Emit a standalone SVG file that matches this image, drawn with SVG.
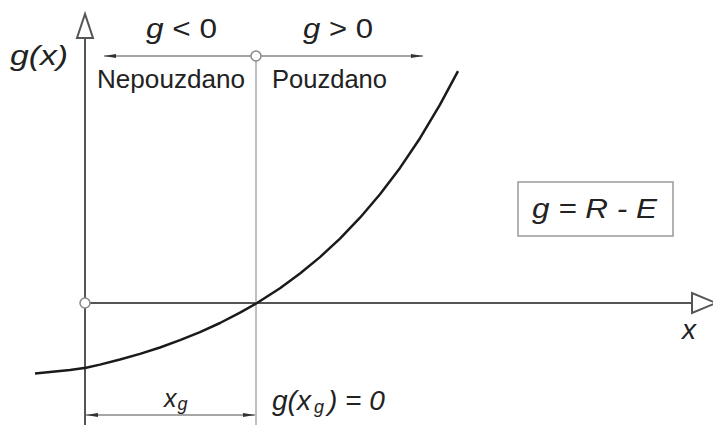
<svg xmlns="http://www.w3.org/2000/svg" width="713" height="425" viewBox="0 0 713 425">
<style>
text{font-family:"Liberation Sans",Arial,sans-serif;fill:#222}
.it{font-style:italic}
.axis{stroke:#555;stroke-width:2;fill:none}
.thin{stroke:#aaa;stroke-width:1.5;fill:none}
.dim{stroke:#888;stroke-width:1.5;fill:none}
.open{fill:#fff;stroke:#555;stroke-width:2}
.dot{fill:#fff;stroke:#888;stroke-width:1.5}
</style>
<defs>
<marker id="ah" viewBox="0 0 12 6" refX="12" refY="3" markerWidth="12" markerHeight="6" markerUnits="userSpaceOnUse" orient="auto-start-reverse">
<path d="M0,1 L12,3 L0,5 Z" fill="#333"/>
</marker>
</defs>
<rect width="713" height="425" fill="#fff"/>
<g id="connectors">
<line class="axis" x1="85" y1="38" x2="85" y2="425"/>
<polygon class="open" points="85,14 77,38 93,38"/>
<line class="axis" x1="90" y1="303" x2="692" y2="303"/>
<polygon class="open" points="692,293 692,313 716,303"/>
<line class="thin" x1="256" y1="61" x2="256" y2="425"/>
<line class="dim" x1="104" y1="56" x2="251" y2="56" marker-start="url(#ah)"/>
<line class="dim" x1="261" y1="56" x2="423" y2="56" marker-end="url(#ah)"/>
<line class="dim" x1="86" y1="415" x2="255" y2="415" marker-start="url(#ah)" marker-end="url(#ah)"/>
<polyline points="35,373.5 50,372 70,370 86,367.8 100,364.6 120,359.5 140,353.9 160,347.5 180,340.2 200,332.1 220,323 240,312.7 257,303 280,288.2 300,273.5 320,257.1 340,238.6 360,217.7 380,194.2 400,167.9 420,138.2 440,104.7 458,71.1" fill="none" stroke="#1a1a1a" stroke-width="2.5" stroke-linejoin="round"/>
</g>
<g id="origin"><circle class="dot" cx="85" cy="303" r="5"/></g>
<g id="limit"><circle class="dot" cx="256" cy="56" r="5"/></g>
<g id="labels">
<text x="10" y="65" font-size="27" class="it" textLength="58" lengthAdjust="spacingAndGlyphs">g(x)</text>
<text x="146" y="38" font-size="27" textLength="71" lengthAdjust="spacingAndGlyphs"><tspan class="it">g</tspan> &lt; 0</text>
<text x="303" y="38" font-size="27" textLength="70" lengthAdjust="spacingAndGlyphs"><tspan class="it">g</tspan> &gt; 0</text>
<text x="97" y="88" font-size="25" textLength="148" lengthAdjust="spacingAndGlyphs">Nepouzdano</text>
<text x="272" y="88" font-size="25" textLength="115" lengthAdjust="spacingAndGlyphs">Pouzdano</text>
<text x="682" y="339" font-size="28" class="it">x</text>
<text x="164" y="407" font-size="25" class="it">x<tspan font-size="18" dy="3" dx="1">g</tspan></text>
<text x="272" y="410" font-size="28" class="it">g(x<tspan font-size="18" dy="3" dx="3">g</tspan><tspan dy="-3" dx="4">) = 0</tspan></text>
</g>
<g id="formula">
<rect x="518" y="182" width="155" height="54" fill="#fff" stroke="#999" stroke-width="1.5"/>
<text x="532" y="218" font-size="28" class="it" textLength="125" lengthAdjust="spacingAndGlyphs">g = R - E</text>
</g>
</svg>
